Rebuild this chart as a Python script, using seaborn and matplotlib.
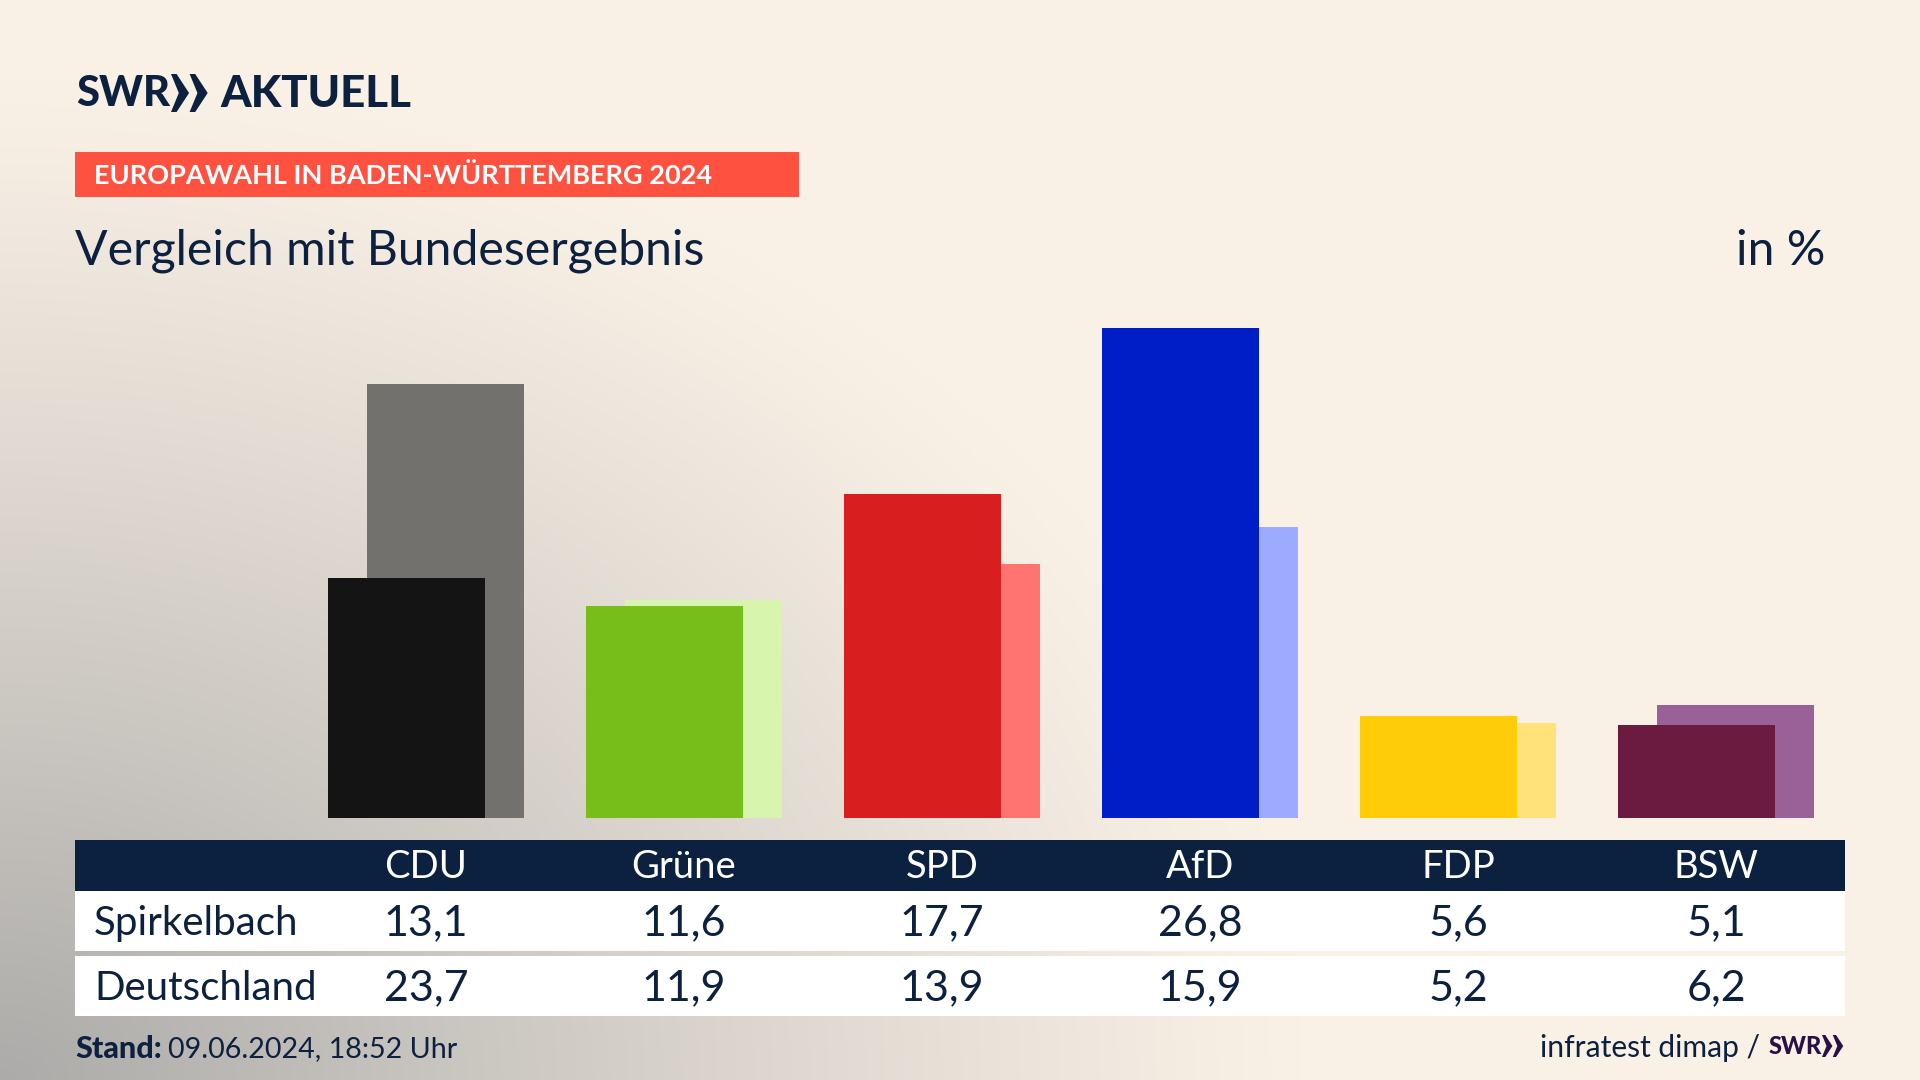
import numpy as np
import pandas as pd
import seaborn as sns
import matplotlib.pyplot as plt
from matplotlib.patches import Rectangle, Polygon

parties = ["CDU", "Grüne", "SPD", "AfD", "FDP", "BSW"]
spirkelbach = [13.1, 11.6, 17.7, 26.8, 5.6, 5.1]
deutschland = [23.7, 11.9, 13.9, 15.9, 5.2, 6.2]
front_colors = ["#141414", "#78BE1A", "#D81E1E", "#001EC8", "#FFCC0A", "#6B1A40"]
back_colors = ["#72716E", "#D7F5AC", "#FF7470", "#9CABFF", "#FFE27A", "#9A6098"]

NAVY = "#0C2040"
FONT = "Lato"


def fmt(v):
    return f"{v:.1f}".replace(".", ",")


def draw_chevrons(ax, x, y, h, color):
    # the two arrows of the SWR logo
    w = h * 0.49
    for i in range(2):
        x0 = x + i * w
        pts = [(x0, y - h / 2), (x0 + w * 0.3, y - h / 2), (x0 + w * 0.97, y),
               (x0 + w * 0.3, y + h / 2), (x0, y + h / 2), (x0 + w * 0.42, y)]
        ax.add_patch(Polygon(pts, color=color, lw=0, zorder=3))


sns.set_theme(style="white")
plt.rcParams["font.family"] = [FONT, "DejaVu Sans"]

fig = plt.figure(figsize=(19.2, 10.8), dpi=100)

# background, everything on it in pixels
bg = fig.add_axes([0, 0, 1, 1])
bg.set_xlim(0, 1920)
bg.set_ylim(1080, 0)
bg.axis("off")

xx, yy = np.meshgrid(np.arange(0, 1920, 4), np.arange(0, 1080, 4))
dist = np.sqrt((xx / 1300.0) ** 2 + ((yy - 1080) / 1000.0) ** 2)
t = np.clip(1 - dist, 0, 1) ** 1.1
cream = np.array([250, 241, 230]) / 255
grey = np.array([172, 171, 169]) / 255
grad = cream + (grey - cream) * t[..., None]
bg.imshow(grad, extent=(0, 1920, 1080, 0), aspect="auto", zorder=0, interpolation="bilinear")

# header
bg.text(76, 94, "SWR", fontsize=30, fontweight="black", color=NAVY, va="center", ha="left")
draw_chevrons(bg, 171, 93, 38, NAVY)
bg.text(220, 94, "AKTUELL", fontsize=31.5, fontweight="black", color=NAVY, va="center", ha="left")

bg.add_patch(Rectangle((75, 152), 724, 45, color="#FF5040", lw=0))
bg.text(94, 176, "EUROPAWAHL IN BADEN-WÜRTTEMBERG 2024", fontsize=19.5, fontweight="bold",
        color="white", va="center", ha="left")
bg.text(75, 251, "Vergleich mit Bundesergebnis", fontsize=34.7, color=NAVY, va="center", ha="left")
bg.text(1825, 251, "in %", fontsize=34.7, color=NAVY, va="center", ha="right")

# table
bg.add_patch(Rectangle((75, 840), 1770, 51, color=NAVY, lw=0))
bg.add_patch(Rectangle((75, 891), 1770, 60, color="white", lw=0))
bg.add_patch(Rectangle((75, 956), 1770, 60, color="white", lw=0))
bg.text(94, 923, "Spirkelbach", fontsize=29, color=NAVY, va="center", ha="left")
bg.text(94, 988, "Deutschland", fontsize=29, color=NAVY, va="center", ha="left")

for i, party in enumerate(parties):
    cx = 426 + i * 258
    bg.text(cx, 867, party, fontsize=27.5, color="white", va="center", ha="center")
    bg.text(cx, 923, fmt(spirkelbach[i]), fontsize=31, color=NAVY, va="center", ha="center")
    bg.text(cx, 988, fmt(deutschland[i]), fontsize=31, color=NAVY, va="center", ha="center")

# footer
bg.text(75, 1049, "Stand:", fontsize=22, fontweight="black", color=NAVY, va="center", ha="left")
bg.text(168, 1049, "09.06.2024, 18:52 Uhr", fontsize=20.6, color=NAVY, va="center", ha="left")
bg.text(1760, 1048, "infratest dimap /", fontsize=21.6, color=NAVY, va="center", ha="right")
bg.text(1769, 1047, "SWR", fontsize=17, fontweight="black", color="#2A1045", va="center", ha="left")
draw_chevrons(bg, 1822, 1046, 22, "#2A1045")

# bars
left, right, bottom, top = 75, 1845, 818, 300
ax = fig.add_axes([left / 1920, 1 - bottom / 1080, (right - left) / 1920, (bottom - top) / 1080])
ax.patch.set_alpha(0)

offset = 19.5 / 258
df_back = pd.DataFrame({"pos": np.arange(len(parties)) + offset, "party": parties, "value": deutschland})
df_front = pd.DataFrame({"pos": np.arange(len(parties)) - offset, "party": parties, "value": spirkelbach})

sns.barplot(data=df_back, x="pos", y="value", hue="party", palette=back_colors, native_scale=True,
            width=156.8 / 258, dodge=False, saturation=1, legend=False, linewidth=0, ax=ax)
sns.barplot(data=df_front, x="pos", y="value", hue="party", palette=front_colors, native_scale=True,
            width=156.8 / 258, dodge=False, saturation=1, legend=False, linewidth=0, ax=ax)

ax.set_xlim((left - 426.2) / 258, (right - 426.2) / 258)
ax.set_ylim(0, (bottom - top) / 18.3)
ax.axis("off")

fig.savefig("out.png", dpi=100)
